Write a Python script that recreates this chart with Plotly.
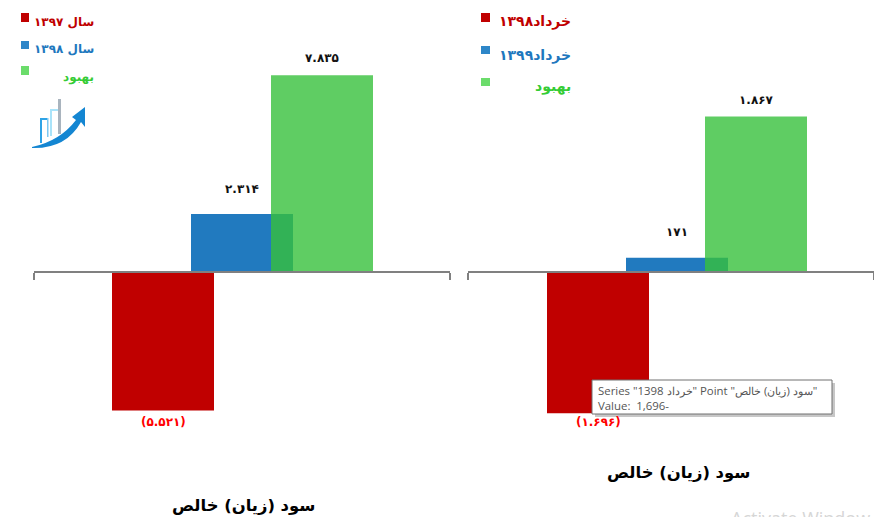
import plotly.graph_objects as go

W, H = 874, 517
category_left = ["سود (زیان) خالص"]
series_left = ["سال ۱۳۹۷", "سال ۱۳۹۸", "بهبود"]
values_left = [-5521, 2314, 7835]
labels_left = ["(۵.۵۲۱)", "۲.۳۱۴", "۷.۸۳۵"]

category_right = ["سود (زیان) خالص"]
series_right = ["خرداد۱۳۹۸", "خرداد۱۳۹۹", "بهبود"]
values_right = [-1696, 171, 1867]
labels_right = ["(۱.۶۹۶)", "۱۷۱", "۱.۸۶۷"]

tooltip_lines = ['Series "1398 خرداد" Point "سود (زیان) خالص"', "Value:  1,696-"]

FILL = ["#C00000", "#217ABF", "rgba(55,192,60,0.80)"]
LEG_SW = ["#C00000", "#2E86C8", "#6BDC6B"]
LEG_TX = ["#C00000", "#1F78BE", "#35CC35"]
FONT = "DejaVu Sans"

px = lambda x: x / W
py = lambda y: 1 - y / H

fig = go.Figure()
shapes = []
ann = []


def add_chart(cat, names, vals, labs, xa, ya, left, right, bar_lefts, shifts):
    span = right - left
    mid = (left + right) / 2
    for i, (n, v, t, c) in enumerate(zip(names, vals, labs, FILL)):
        fig.add_trace(go.Bar(
            x=[0], y=[v], name=n, xaxis=xa, yaxis=ya, marker=dict(color=c, line_width=0),
            width=102 / span, offset=(bar_lefts[i] - mid) / span,
            customdata=cat, hovertemplate="%{customdata}: %{y}<extra>%{fullData.name}</extra>", showlegend=False,
        ))
        ann.append(dict(xref=xa, yref=ya, x=(bar_lefts[i] + 51 - mid) / span, y=v, text=t, showarrow=False,
                        xanchor="center", yanchor="middle", yshift=shifts[i],
                        font=dict(family=FONT, size=12, weight="bold", color="#FF0000" if v < 0 else "#111111")))


add_chart(category_left, series_left, values_left, labels_left, "x", "y", 34, 450, [112, 191, 271], [-11, 25, 17])
add_chart(category_right, series_right, values_right, labels_right, "x2", "y2", 468, 874, [547, 626, 705], [-9, 26, 16])

axis_y = py(272)
xcommon = dict(anchor="free", position=axis_y, range=[-0.5, 0.5], showline=True, linecolor="#808080", linewidth=1.5,
               ticks="outside", ticklen=7, tickcolor="#808080", tickwidth=1.5, tickvals=[-0.5, 0.5],
               showgrid=False, zeroline=False, type="linear", showticklabels=False)
ycommon = dict(domain=[0, 1], visible=False, showgrid=False, zeroline=False)

scale_l = 25.1 / 1000
scale_r = 83.3 / 1000
fig.update_layout(
    width=W, height=H, margin=dict(l=0, r=0, t=0, b=0), paper_bgcolor="white", plot_bgcolor="white",
    barmode="overlay", showlegend=False, font=dict(family=FONT),
    xaxis=dict(domain=[px(34), px(450)], **xcommon),
    xaxis2=dict(domain=[px(468), 1], **xcommon),
    yaxis=dict(range=[-(H - 272) / scale_l, 272 / scale_l], **ycommon),
    yaxis2=dict(range=[-(H - 272) / scale_r, 272 / scale_r], **ycommon),
)


def rect(x0, y0, x1, y1, color, line=None):
    shapes.append(dict(type="rect", xref="paper", yref="paper", x0=px(x0), x1=px(x1), y0=py(y0), y1=py(y1),
                       fillcolor=color, line=dict(width=0) if line is None else line))


def text(x, y, s, color="#000", size=13, anchor="right", bold=True, family=FONT, **kw):
    ann.append(dict(xref="paper", yref="paper", x=px(x), y=py(y), text=s, showarrow=False, xanchor=anchor,
                    yanchor="middle", font=dict(family=family, size=size, color=color, weight="bold" if bold else "normal"),
                    **kw))


for (sq, ty), n, sw, tc in zip([((13, 22), 22), ((41, 49), 49), ((66, 75), 77)], series_left, LEG_SW, LEG_TX):
    rect(21, sq[0], 29, sq[1], sw)
    text(96, ty, n, tc, 12)
for (sq, ty), n, sw, tc in zip([((13, 22), 22), ((46, 54), 55), ((78, 86), 87)], series_right, LEG_SW, LEG_TX):
    rect(481, sq[0], 490, sq[1], sw)
    text(573, ty, n, tc, 14)

text(243, 505, "سود (زیان) خالص", "#000", 16.4, anchor="center")
text(678, 472, "سود (زیان) خالص", "#000", 16.4, anchor="center")

# small growth icon
rect(40, 118, 42, 143, "#2FA3E6")
rect(40, 118, 48, 120, "#2FA3E6")
rect(47, 118, 48.5, 137, "#7CC8F2")
rect(50, 109, 52, 136, "#A9E3F9")
rect(50, 109, 58, 111, "#A9E3F9")
rect(58, 99, 61, 134, "#A9B4BE")
shapes.append(dict(type="path", xref="paper", yref="paper", fillcolor="#1486D2", line=dict(width=0),
                   path="M {} {} Q {} {} {} {} L {} {} L {} {} L {} {} L {} {} Q {} {} {} {} Z".format(
                       px(32), py(147), px(60), py(141), px(76), py(120), px(72), py(117), px(85), py(107),
                       px(85), py(127), px(81), py(122), px(66), py(149), px(32), py(148))))

# tooltip
rect(595, 383, 835, 417, "rgba(130,130,130,0.45)")
rect(592, 380, 832, 414, "white", dict(color="#707070", width=1))
text(596, 390, tooltip_lines[0], "#555555", 11.4, anchor="left", bold=False, family="Open Sans")
text(596, 405, tooltip_lines[1], "#555555", 11.4, anchor="left", bold=False, family="Open Sans")

text(729, 518, "Activate Window", "#D6D6D6", 18, anchor="left", bold=False, family="Open Sans")

fig.update_layout(shapes=shapes, annotations=ann)
fig.write_html("out.html", config=dict(displayModeBar=False),
               post_script="document.body.style.margin='0';document.body.style.overflow='hidden';")
